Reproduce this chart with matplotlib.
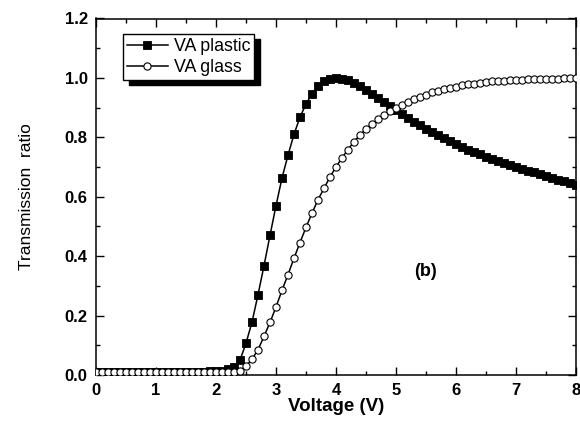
import matplotlib
matplotlib.use("Agg")
import matplotlib.pyplot as plt
from matplotlib.patches import Rectangle
from matplotlib.ticker import MultipleLocator

voltage = [0.0, 0.1, 0.2, 0.3, 0.4, 0.5, 0.6, 0.7, 0.8, 0.9,
           1.0, 1.1, 1.2, 1.3, 1.4, 1.5, 1.6, 1.7, 1.8, 1.9,
           2.0, 2.1, 2.2, 2.3, 2.4, 2.5, 2.6, 2.7, 2.8, 2.9,
           3.0, 3.1, 3.2, 3.3, 3.4, 3.5, 3.6, 3.7, 3.8, 3.9,
           4.0, 4.1, 4.2, 4.3, 4.4, 4.5, 4.6, 4.7, 4.8, 4.9,
           5.0, 5.1, 5.2, 5.3, 5.4, 5.5, 5.6, 5.7, 5.8, 5.9,
           6.0, 6.1, 6.2, 6.3, 6.4, 6.5, 6.6, 6.7, 6.8, 6.9,
           7.0, 7.1, 7.2, 7.3, 7.4, 7.5, 7.6, 7.7, 7.8, 7.9,
           8.0]

va_plastic = [0.010, 0.010, 0.010, 0.010, 0.010, 0.010, 0.010, 0.010, 0.010, 0.010,
              0.010, 0.010, 0.010, 0.010, 0.010, 0.010, 0.010, 0.011, 0.011, 0.012,
              0.013, 0.015, 0.019, 0.027, 0.050, 0.107, 0.178, 0.270, 0.368, 0.470,
              0.570, 0.663, 0.740, 0.810, 0.868, 0.912, 0.947, 0.972, 0.988, 0.997,
              1.000, 0.998, 0.992, 0.983, 0.972, 0.960, 0.947, 0.933, 0.919, 0.905,
              0.892, 0.878, 0.865, 0.852, 0.840, 0.829, 0.818, 0.807, 0.797, 0.787,
              0.777, 0.768, 0.759, 0.751, 0.743, 0.735, 0.728, 0.721, 0.714, 0.707,
              0.700, 0.694, 0.688, 0.682, 0.676, 0.670, 0.664, 0.658, 0.652, 0.646,
              0.640]

va_glass = [0.010, 0.010, 0.010, 0.010, 0.010, 0.010, 0.010, 0.010, 0.010, 0.010,
            0.010, 0.010, 0.010, 0.010, 0.010, 0.010, 0.010, 0.010, 0.010, 0.010,
            0.010, 0.010, 0.010, 0.011, 0.015, 0.030, 0.053, 0.085, 0.130, 0.177,
            0.229, 0.285, 0.338, 0.393, 0.446, 0.497, 0.545, 0.590, 0.628, 0.667,
            0.700, 0.731, 0.759, 0.785, 0.808, 0.828, 0.845, 0.861, 0.876, 0.889,
            0.900, 0.910, 0.920, 0.929, 0.937, 0.944, 0.951, 0.957, 0.962, 0.967,
            0.971, 0.975, 0.978, 0.981, 0.984, 0.986, 0.988, 0.990, 0.991, 0.992,
            0.993, 0.994, 0.995, 0.996, 0.997, 0.997, 0.998, 0.998, 0.999, 0.999,
            1.000]

series_labels = ["VA plastic", "VA glass"]
x_ticks = [0, 1, 2, 3, 4, 5, 6, 7, 8]
y_ticks = [0.0, 0.2, 0.4, 0.6, 0.8, 1.0, 1.2]

plt.rcParams['font.family'] = ['Liberation Sans', 'DejaVu Sans']

fig = plt.figure(figsize=(5.8, 4.25), dpi=100)
ax = fig.add_axes([96 / 580, 1 - 375 / 425, (576 - 96) / 580, (375 - 18.5) / 425])

ax.plot(voltage, va_plastic, '-', color='black', lw=1.1, marker='s',
        markersize=5.3, markerfacecolor='black', markeredgecolor='black',
        markeredgewidth=0.6, label=series_labels[0], zorder=2)
ax.plot(voltage, va_glass, '-', color='black', lw=1.1, marker='o',
        markersize=5.2, markerfacecolor='white', markeredgecolor='black',
        markeredgewidth=0.8, label=series_labels[1], zorder=3)

ax.set_xlim(0, 8)
ax.set_ylim(0, 1.2)
ax.set_xticks(x_ticks)
ax.set_yticks(y_ticks)
ax.set_xticklabels([str(t) for t in x_ticks])
ax.set_yticklabels([f"{t:.1f}" for t in y_ticks])
ax.xaxis.set_minor_locator(MultipleLocator(0.5))
ax.yaxis.set_minor_locator(MultipleLocator(0.1))
ax.tick_params(which='both', direction='in', top=True, right=True, width=1.0)
ax.tick_params(which='major', length=6, labelsize=12, pad=6)
ax.tick_params(which='minor', length=3)
for lab in ax.get_xticklabels() + ax.get_yticklabels():
    lab.set_fontweight('bold')
for sp in ax.spines.values():
    sp.set_linewidth(1.1)

ax.set_xlabel("Voltage (V)", fontsize=13.5, fontweight='bold', labelpad=0)
ax.set_ylabel("Transmission  ratio", fontsize=12.5, labelpad=22)

ax.text(5.49, 0.347, "(b)", fontsize=13, fontweight='bold', ha='center', va='center')

leg = ax.legend(loc='upper left', bbox_to_anchor=(27 / 480, 1 - 15.5 / 356.5),
                borderaxespad=0, fontsize=12.8, frameon=True, fancybox=False,
                edgecolor='black', framealpha=1, numpoints=1, handlelength=2.3,
                handletextpad=0.35, labelspacing=0.25, borderpad=0.22)
leg.get_frame().set_linewidth(1.0)
leg.set_zorder(10)

fig.canvas.draw()
bb = leg.get_window_extent()
shadow = Rectangle((bb.x0 + 6, bb.y0 - 5), bb.width, bb.height, transform=None,
                   facecolor='black', edgecolor='black', zorder=9)
ax.add_artist(shadow)

fig.savefig("out.png", dpi=100)
